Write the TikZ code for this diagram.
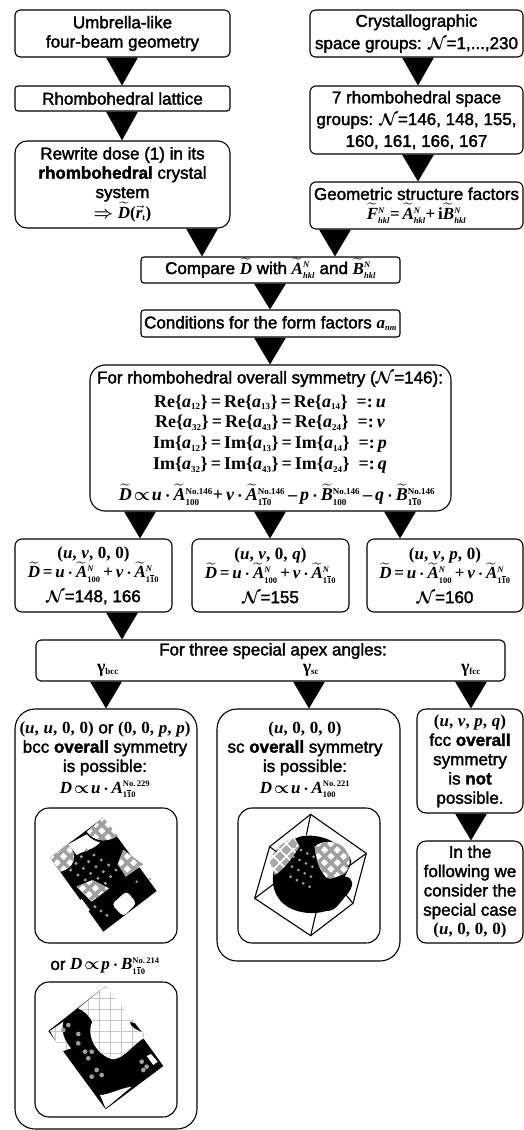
\documentclass[tikz,border=0pt]{standalone}
\usepackage{fix-cm}
\usepackage{amsmath,bm,mathtools}
\usepackage[no-math]{fontspec}
\setmainfont{Liberation Sans}[RawFeature={embolden=2}]
\newfontfamily\srfb{Liberation Serif}
\usetikzlibrary{calc, patterns.meta}

\newcommand{\mv}[1]{\text{\srfb\bfseries\itshape #1}}
\newcommand{\mr}[1]{\text{\srfb\bfseries\upshape #1}}
\newcommand{\cN}{\ensuremath{\bm{\mathcal{N}}}}
\newcommand{\tl}[1]{\smash{\widetilde{\mv{#1}}}}
\newcommand{\sst}[1]{{\scriptscriptstyle #1}}
\newcommand{\sN}{\sst{\mv{N}}}
\newcommand{\hkl}{\sst{\mv{hkl}}}
\newcommand{\oto}{\sst{\mr{1}\overline{\mr{1}}\mr{0}}}
\newcommand{\ooo}{\sst{\mr{100}}}
\newcommand{\sno}[1]{\sst{\mr{No.#1}}}
\newcommand{\dotp}{\mkern3mu\mathord{\bm{\cdot}}\mkern3mu}
\newcommand{\prp}{\mkern2mu\mathord{\bm{\propto}}\mkern2mu}
\newcommand{\relu}[5]{$\mr{#1\{}\mv{a}_{\sst{\mr{#2}}}\mr{\}\,=\,#1\{}\mv{a}_{\sst{\mr{#3}}}\mr{\}\,=\,#1\{}\mv{a}_{\sst{\mr{#4}}}\mr{\}\ \ =:\,}\mv{#5}$}
\newcommand{\tuple}[4]{$\mr{(}\mv{#1}\mr{,\;}\mv{#2}\mr{,\;}\mv{#3}\mr{,\;}\mv{#4}\mr{)}$}
% triangle between two boxes at position x
\newcommand{\flowtri}[3]{
  \coordinate (tx) at (#3,0);
  \fill (tx |- #1.south) ++(-16,0) -- ++(32,0) -- (tx |- #2.north) -- cycle;
}

\begin{document}
\begin{tikzpicture}[x=1pt, y=-1pt, line width=1.1pt,
    fbox/.style={draw, align=center, inner sep=0pt, font=\fontsize{17}{19.3}\selectfont},
    txt/.style={align=center, inner sep=0pt, font=\fontsize{17}{19.3}\selectfont},
    frm/.style={align=center, inner sep=0pt, font=\fontsize{18}{20.7}\selectfont},
    chk/.style={preaction={fill=white}, pattern={Hatch[angle=45,distance=9pt,line width=3.6pt]}, pattern color=gray!75},
    lchk/.style={pattern={Hatch[angle=0,distance=11pt,line width=0.5pt]}, pattern color=gray!45},
    spot/.style={fill=gray!75}]
  \useasboundingbox (0,0) rectangle (524,1130);

  \node[fbox, rounded corners=5pt, minimum width=215pt, minimum height=47pt] (umbrella) at (122.5,33.5) {Umbrella-like\\four-beam geometry};
  \node[fbox, rounded corners=3pt, minimum width=215pt, minimum height=25pt] (lattice) at (122.5,98.5) {Rhombohedral lattice};
  \node[fbox, rounded corners=12pt, minimum width=215pt, minimum height=87pt] (rewrite) at (122.5,184.5)
    {Rewrite dose (1) in its\\\textbf{rhombohedral} crystal\\system\\[1pt]$\bm{\Rightarrow}\tl{D}\mr{(}\vec{\mv{r}}_{\sst{\mr{t}}}\mr{)}$};
  \node[fbox, rounded corners=5pt, minimum width=213pt, minimum height=47pt] (groups) at (416.5,33.5) {Crystallographic\\[3pt]space groups: \cN=1,...,230};
  \node[fbox, rounded corners=6pt, minimum width=213pt, minimum height=68pt] (seven) at (416.5,120)
    {7 rhombohedral space\\[2.5pt]groups: \cN=146, 148, 155,\\[2.5pt]160, 161, 166, 167};
  \node[fbox, rounded corners=6pt, minimum width=213pt, minimum height=47pt] (factors) at (416.5,205.5)
    {Geometric structure factors\\$\smash{\widetilde{\mv{F}}}^{\sN}_{\hkl}\mr{=\,}\tl{A}^{\sN}_{\hkl}\mr{+\,i}\tl{B}^{\sN}_{\hkl}$};
  \node[fbox, rounded corners=3pt, minimum width=259pt, minimum height=26pt] (compare) at (270.5,270)
    {Compare $\tl{D}$ with $\tl{A}^{\sN}_{\hkl}$ and $\tl{B}^{\sN}_{\hkl}$};
  \node[fbox, rounded corners=3pt, minimum width=259pt, minimum height=27pt] (conditions) at (270.5,323.5)
    {Conditions for the form factors $\mv{a}_{\sst{\mv{nm}}}$};

  \node[fbox, rounded corners=15pt, minimum width=361pt, minimum height=146pt] (overall) at (270.5,438) {};
  \node[txt] (overallhead) at (270,379) {For rhombohedral overall symmetry (\cN=146):};
  \node[frm] (overallrel) at (270,434) {\relu{Re}{12}{13}{14}{u}\\\relu{Re}{32}{43}{24}{v}\\\relu{Im}{12}{13}{14}{p}\\\relu{Im}{32}{43}{24}{q}};
  \node[frm] (overallsum) at (277,497) {$\tl{D}\prp\mv{u}\dotp\tl{A}^{\sno{146}}_{\ooo}\mr{+\,}\mv{v}\dotp\tl{A}^{\sno{146}}_{\oto}\mr{\,–\,}\mv{p}\dotp\tl{B}^{\sno{146}}_{\ooo}\mr{\,–\,}\mv{q}\dotp\tl{B}^{\sno{146}}_{\oto}$};

  \node[fbox, rounded corners=7pt, minimum width=157pt, minimum height=73pt] (casea) at (93.5,575.5)
    {\tuple{u}{v}{\mr{0}}{\mr{0}}\\[0pt]$\tl{D}\mr{\,=\,}\mv{u}\dotp\tl{A}^{\sN}_{\ooo}\mr{\,+\,}\mv{v}\dotp\tl{A}^{\sN}_{\oto}$\\[5pt]\cN=148, 166};
  \node[fbox, rounded corners=7pt, minimum width=157pt, minimum height=73pt] (caseb) at (270.5,575.5)
    {\tuple{u}{v}{\mr{0}}{q}\\[0pt]$\tl{D}\mr{\,=\,}\mv{u}\dotp\tl{A}^{\sN}_{\ooo}\mr{\,+\,}\mv{v}\dotp\tl{A}^{\sN}_{\oto}$\\[5pt]\cN=155};
  \node[fbox, rounded corners=7pt, minimum width=156pt, minimum height=73pt] (casec) at (445,575.5)
    {\tuple{u}{v}{p}{\mr{0}}\\[0pt]$\tl{D}\mr{\,=\,}\mv{u}\dotp\tl{A}^{\sN}_{\ooo}\mr{\,+\,}\mv{v}\dotp\tl{A}^{\sN}_{\oto}$\\[5pt]\cN=160};

  \node[fbox, rounded corners=5pt, minimum width=469pt, minimum height=41pt] (apex) at (270.5,660.5) {};
  \node[txt] (apexhead) at (273,651) {For three special apex angles:};
  \node[frm] (gbcc) at (108,670) {\srfb\bfseries γ$_{\sst{\mr{bcc}}}$};
  \node[frm] (gsc) at (311,670) {\srfb\bfseries γ$_{\sst{\mr{sc}}}$};
  \node[frm] (gfcc) at (471,670) {\srfb\bfseries γ$_{\sst{\mr{fcc}}}$};

  \node[fbox, rounded corners=20pt, minimum width=182pt, minimum height=420pt] (bcc) at (106,919) {};
  \node[txt, anchor=north] (bcctext) at (105,721) {\tuple{u}{u}{\mr{0}}{\mr{0}} or \tuple{\mr{0}}{\mr{0}}{p}{p}\\bcc \textbf{overall} symmetry\\is possible:\\[2pt]$\mv{D}\prp\mv{u}\dotp\mv{A}^{\sno{\,229}}_{\oto}$};
  \node[fbox, rounded corners=14pt, minimum width=142pt, minimum height=135pt] (bccpica) at (106,875.5) {};
  \node[txt] (bccor) at (105,966) {or $\mv{D}\prp\mv{p}\dotp\mv{B}^{\sno{\,214}}_{\oto}$};
  \node[fbox, rounded corners=14pt, minimum width=142pt, minimum height=135pt] (bccpicb) at (106,1049.5) {};

  \node[fbox, rounded corners=20pt, minimum width=183pt, minimum height=252pt] (sc) at (308.5,835) {};
  \node[txt, anchor=north] (sctext) at (305,721) {\tuple{u}{\mr{0}}{\mr{0}}{\mr{0}}\\sc \textbf{overall} symmetry\\is possible:\\[2pt]$\mv{D}\prp\mv{u}\dotp\mv{A}^{\sno{\,221}}_{\ooo}$};
  \node[fbox, rounded corners=14pt, minimum width=142pt, minimum height=135pt] (scpic) at (309,875.5) {};

  \node[fbox, rounded corners=9pt, minimum width=106pt, minimum height=104pt] (fcc) at (470,761)
    {\tuple{u}{v}{p}{q}\\fcc \textbf{overall}\\symmetry\\is \textbf{not}\\possible.};
  \node[fbox, rounded corners=9pt, minimum width=106pt, minimum height=102pt] (special) at (470,892)
    {In the\\following we\\consider the\\special case\\\tuple{u}{\mr{0}}{\mr{0}}{\mr{0}}};

  \flowtri{umbrella}{lattice}{122}
  \flowtri{lattice}{rewrite}{122}
  \flowtri{groups}{seven}{418}
  \flowtri{seven}{factors}{418}
  \flowtri{rewrite}{compare}{202}
  \flowtri{factors}{compare}{335}
  \flowtri{compare}{conditions}{270}
  \flowtri{conditions}{overall}{270}
  \flowtri{overall}{casea}{140}
  \flowtri{overall}{caseb}{270}
  \flowtri{overall}{casec}{400}
  \flowtri{casea}{apex}{122}
  \flowtri{apex}{bcc}{106}
  \flowtri{apex}{sc}{309}
  \flowtri{apex}{fcc}{471}
  \flowtri{fcc}{special}{471}

  % bcc cube, first
  \begin{scope}[shift={(35,805)}, x=0.3333pt, y=-0.3333pt]
    \fill (205,38) -- (45,158) -- (205,380) -- (365,258) -- cycle;
    \path[chk] (155,80) -- (205,38) -- (248,92) .. controls (225,110) and (180,115) .. cycle;
    \path[chk] (45,158) -- (100,118) .. controls (130,150) and (120,190) .. (75,200) -- cycle;
    \path[chk] (265,135) -- (325,178) -- (272,215) .. controls (262,195) and (255,190) .. (248,178) -- cycle;
    \path[chk] (125,245) -- (172,225) -- (222,250) -- (170,290) -- cycle;
    \fill[white] (100,118) -- (155,88) .. controls (170,105) and (185,110) .. (195,112) .. controls (175,135) and (150,135) .. (125,150) -- cycle;
    \fill[white, rounded corners=4pt] (230,298) -- (275,258) -- (305,295) -- (265,335) -- cycle;
    \fill[white] (132,288) -- (140,282) -- (165,315) -- (158,320) -- cycle;
    \fill[white] (250,95) -- (325,172) -- (290,135) -- cycle;
    \foreach \i in {0,...,4} \foreach \j in {0,...,3}
      \fill[spot] ($(155,135)+\i*(22,15)+\j*(-16,20)$) circle (5);
    \foreach \i in {0,...,2}
      \fill[spot] ($(180,305)+\i*(18,13)$) circle (5);
    \fill[spot] (305,230) circle (4) (345,222) circle (4);
  \end{scope}

  % sc cube
  \begin{scope}[shift={(238,805)}, x=0.3333pt, y=-0.3333pt]
    \fill (105,235) .. controls (100,160) and (150,90) .. (210,92)
      .. controls (270,90) and (330,130) .. (340,170)
      .. controls (335,190) and (325,205) .. (320,215)
      .. controls (345,215) and (350,240) .. (330,265)
      .. controls (310,285) and (295,320) .. (265,318)
      .. controls (210,335) and (115,320) .. (105,235) -- cycle;
    \path[preaction={fill=gray!70}, pattern={Hatch[angle=45,distance=9pt,line width=1.5pt]}, pattern color=white] (95,170) .. controls (105,130) and (150,100) .. (170,100) -- (185,125) .. controls (165,150) and (150,185) .. (110,210) -- cycle;
    \path[chk] (230,125) .. controls (250,105) and (300,105) .. (320,130) .. controls (345,165) and (335,190) .. (320,205) .. controls (300,215) and (275,225) .. (265,218) .. controls (240,190) and (235,160) .. (230,125) -- cycle;
    \foreach \i in {0,...,3} \foreach \j in {0,...,3}
      \fill[spot] ($(170,125)+\i*(19,10)+\j*(-4,30)$) circle (4.5);
    \draw (218,28) -- (385,145) -- (345,295) -- (218,392) -- (50,280) -- (95,125) -- cycle;
    \draw (218,28) -- (205,90) (385,145) -- (330,185) (345,295) -- (320,265) (218,392) -- (235,320) (50,280) -- (110,235) (95,125) -- (115,140);
  \end{scope}

  % bcc cube, second
  \begin{scope}[shift={(35,980)}, x=0.3333pt, y=-0.3333pt]
    \fill (212,18) -- (40,153) -- (212,388) -- (385,258) -- cycle;
    \path[fill=white, postaction={lchk}] (130,85) -- (212,18) -- (335,170)
      .. controls (300,185) and (270,235) .. (235,238)
      .. controls (190,230) and (150,170) .. (172,125)
      .. controls (160,105) and (150,95) .. (130,85) -- cycle;
    \path[fill=white, postaction={lchk}] (45,153) -- (85,125) .. controls (75,160) and (95,190) .. (108,205) -- (80,215) -- cycle;
    \fill[white] (195,345) .. controls (220,345) and (255,325) .. (290,320) -- (212,385) -- cycle;
    \fill[white] (150,312) -- (160,318) -- (195,370) -- (205,380) -- cycle;
    \fill[white] (335,228) -- (348,222) -- (368,245) -- (355,255) -- cycle;
    \fill (285,125) .. controls (285,140) and (305,150) .. (320,155) -- (300,130) -- cycle;
    \foreach \p/\q in {100/135, 85/150, 130/162, 130/190, 150/215, 170/215, 160/235, 185/270, 200/285, 170/290, 320/245, 335/260, 325/270}
      \fill[spot] (\p,\q) circle (7);
  \end{scope}
\end{tikzpicture}
\end{document}
